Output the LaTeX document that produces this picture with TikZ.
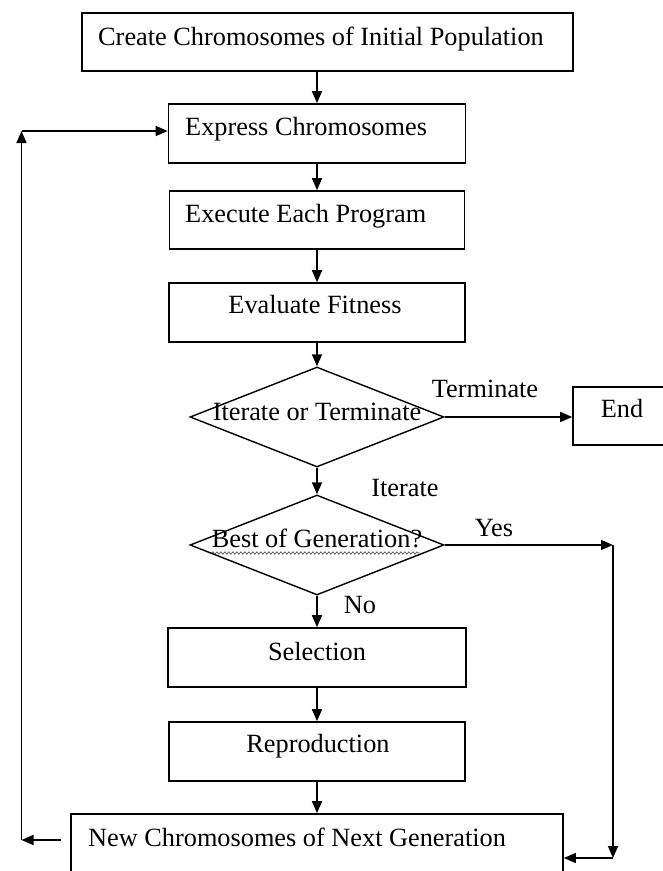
\documentclass[tikz,border=0pt]{standalone}
\usepackage{fontspec}
\setmainfont{Liberation Serif}
\usetikzlibrary{arrows.meta,shapes.geometric,decorations.pathmorphing}
\tikzset{
  box/.style={draw=black, line width=1.6pt, rectangle, inner sep=0pt},
  dia/.style={draw=black, line width=1.4pt, diamond, inner sep=0pt, minimum width=254pt, minimum height=100pt},
  txt/.style={inner sep=0pt, font=\fontsize{26.3pt}{30pt}\selectfont},
  arr/.style={line width=1.6pt, -{Triangle[length=12pt,width=10pt]}},
  squig/.style={draw=black!65, line width=0.7pt, decorate, decoration={snake, amplitude=1.2pt, segment length=4pt}}
}
\begin{document}
\begin{tikzpicture}[x=1pt,y=-1pt]
\clip (0,0) rectangle (663,871);
\fill[white] (0,0) rectangle (663,871);
% boxes
\node[box, minimum width=491pt, minimum height=58pt] (b1) at (327.5,42) {};
\node[box, minimum width=297pt, minimum height=59pt] (b2) at (317,133.5) {};
\node[box, minimum width=295pt, minimum height=58pt] (b3) at (317,220) {};
\node[box, minimum width=296pt, minimum height=59pt] (b4) at (317,312.5) {};
\node[dia] (d1) at (317,417) {};
\node[box, minimum width=100pt, minimum height=58pt] (e1) at (623,416) {};
\node[dia] (d2) at (317,545) {};
\node[box, minimum width=298pt, minimum height=59pt] (s1) at (317,657.5) {};
\node[box, minimum width=296pt, minimum height=59pt] (r1) at (317,751.5) {};
\node[box, minimum width=492pt, minimum height=76pt] (n1) at (317,852) {};
% texts
\node[txt, anchor=base west] (tb1) at (98,45) {Create Chromosomes of Initial Population};
\node[txt, anchor=base west] (tb2) at (185,135) {Express Chromosomes};
\node[txt, anchor=base west] (tb3) at (185,222) {Execute Each Program};
\node[txt, anchor=base] (tb4) at (315,313) {Evaluate Fitness};
\node[txt, anchor=base] (td1) at (317,420) {Iterate or Terminate};
\node[txt, anchor=base] (te1) at (622,417) {End};
\node[txt, anchor=base] (td2) at (317,547) {Best of Generation?};
\node[txt, anchor=base] (ts1) at (317,660) {Selection};
\node[txt, anchor=base] (tr1) at (318,752) {Reproduction};
\node[txt, anchor=base west] (tn1) at (88,846) {New Chromosomes of Next Generation};
% labels
\node[txt, anchor=base] (lterm) at (485,397) {Terminate};
\node[txt, anchor=base] (liter) at (405,496) {Iterate};
\node[txt, anchor=base] (lyes) at (494,536) {Yes};
\node[txt, anchor=base] (lno) at (360,613) {No};
% squiggly underline
\draw[squig] (td2.base west) ++(0,6) -- ++(208,0);
% coordinates
\coordinate (yc) at (613,545);
\coordinate (yb) at (613,858);
\coordinate (lb) at (21.5,840);
\coordinate (lt) at (21.5,131);
% connectors
\draw[arr] (b1.south -| b2.north) -- (b2.north);
\draw[arr] (b2.south) -- (b3.north);
\draw[arr] (b3.south) -- (b4.north);
\draw[arr] (b4.south) -- (d1.north);
\draw[arr] (d1.east) -- (d1.east -| e1.west);
\draw[arr] (d1.south) -- (d2.north);
\draw[arr] (d2.south) -- (s1.north);
\draw[arr] (s1.south) -- (r1.north);
\draw[arr] (r1.south) -- (n1.north);
\draw[arr] (d2.east) -- (yc);
\draw[arr] (yc) -- (yb);
\draw[arr] (yb) -- (yb -| n1.east);
\draw[arr] ([xshift=-9pt]lb -| n1.west) -- (lb);
\draw[arr] (lb) -- (lt);
\draw[arr] (lt) -- (lt -| b2.west);
\end{tikzpicture}
\end{document}
